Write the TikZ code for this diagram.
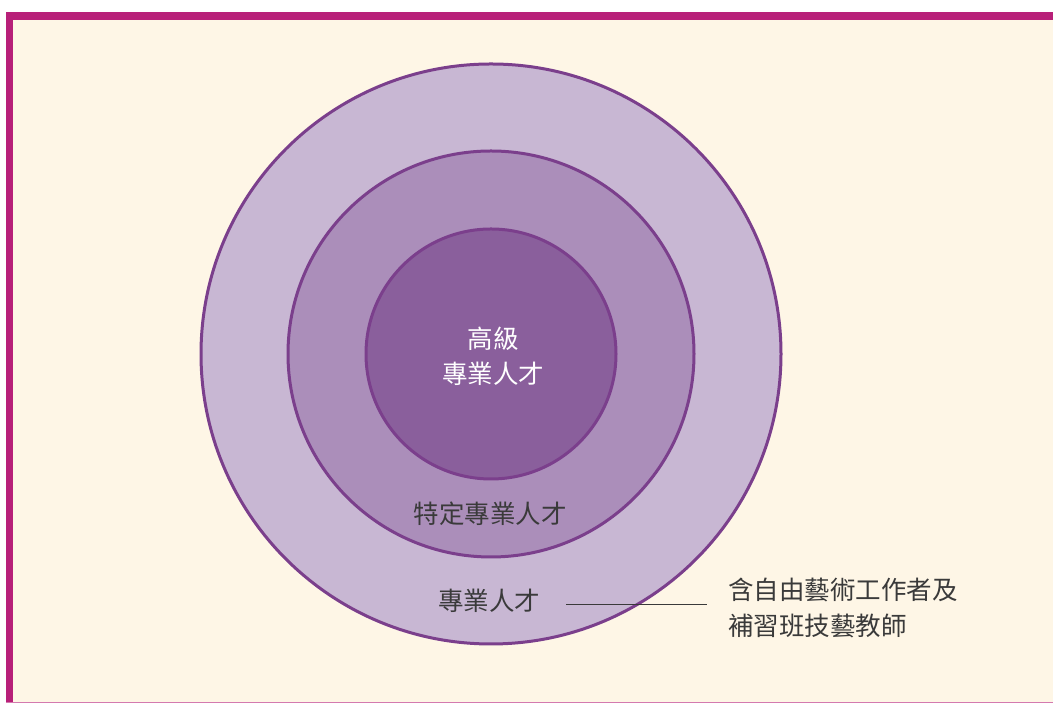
\documentclass[tikz,border=0pt]{standalone}
\usepackage{fontspec}
\newfontfamily\cjk{Noto Sans CJK TC}
\definecolor{bgc}{HTML}{FEF6E6}
\definecolor{frame}{HTML}{B82079}
\definecolor{ring1}{HTML}{C8B7D3}
\definecolor{ring2}{HTML}{AB8EBA}
\definecolor{ring3}{HTML}{8A5F9C}
\definecolor{edge}{HTML}{7B3F8C}
\definecolor{txt}{HTML}{3A3A3A}
\tikzset{
  ring/.style={circle, draw=edge, line width=3pt, inner sep=0pt},
  lbl/.style={font=\cjk\fontsize{25.5}{36}\selectfont, text=txt, align=left, inner sep=0pt},
  wlbl/.style={font=\cjk\fontsize{25.5}{35}\selectfont, text=white, align=center, inner sep=0pt}
}
\begin{document}
\begin{tikzpicture}[x=1pt,y=1pt]
\useasboundingbox (0,0) rectangle (1053,703);
\fill[white] (0,0) rectangle (1053,703);
\fill[bgc] (6,0) rectangle (1053,691);
\fill[frame] (6,683) rectangle (1053,691);
\fill[frame] (6,0) rectangle (13,691);
\fill[frame!60] (6,0) rectangle (1053,1.2);
\node[ring, fill=ring1, minimum size=580] (outer) at (491,349) {};
\node[ring, fill=ring2, minimum size=406] (mid) at (491,349) {};
\node[ring, fill=ring3, minimum size=250] (inner) at (491,349) {};
\node[wlbl] (t1) at (493,347) {高級\\專業人才};
\node[lbl, align=center] (t2) at (490,189) {特定專業人才};
\node[lbl] (t3) at (489,102) {專業人才};
\coordinate (l1) at (566,99);
\coordinate (l2) at (707,99);
\draw[txt, line width=0.9pt] (l1) -- (l2);
\node[lbl, anchor=west] (t4) at (728,95) {含自由藝術工作者及\\補習班技藝教師};
\end{tikzpicture}
\end{document}
